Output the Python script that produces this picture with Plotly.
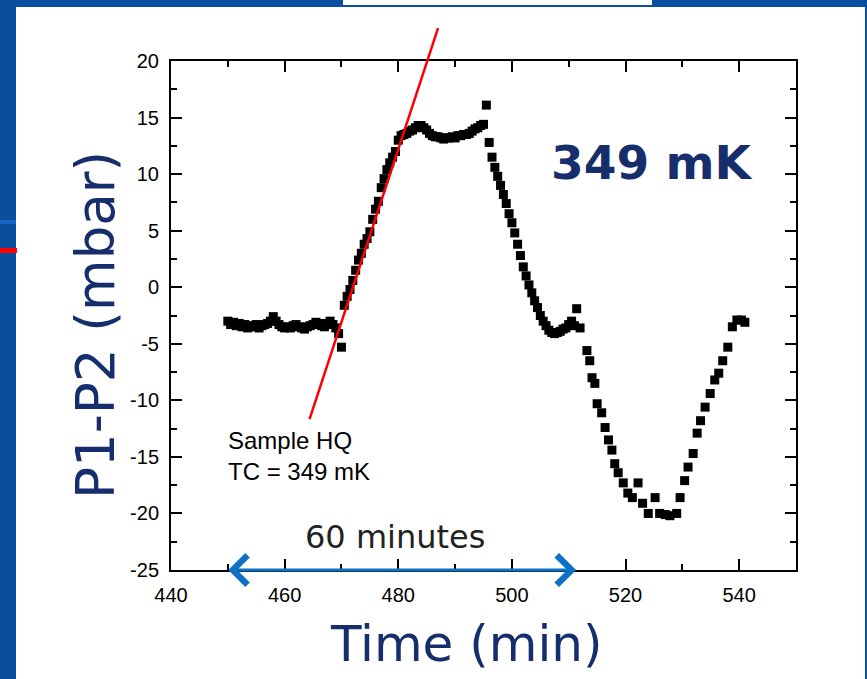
import plotly.graph_objects as go

# ---- data ----
time_min = [
    450, 450.5, 451, 451.5, 452, 452.5, 453, 453.5, 454, 454.5, 455, 455.5, 456, 456.5,
    457, 457.5, 458, 458.5, 459, 459.5, 460, 460.5, 461, 461.5, 462, 462.5, 463, 463.5,
    464, 464.5, 465, 465.5, 466, 466.5, 467, 467.5, 468, 468.5, 469, 469.5, 470,
    470.5, 471, 471.5, 472, 472.5, 473, 473.5, 474, 474.5, 475, 475.5, 476, 476.5,
    477, 477.5, 478, 478.5, 479, 479.5, 480, 480.5, 481, 481.5, 482, 482.5, 483,
    483.5, 484, 484.5, 485, 485.5, 486, 486.5, 487, 487.5, 488, 488.5, 489, 489.5,
    490, 490.5, 491, 491.5, 492, 492.5, 493, 493.5, 494, 494.5, 495, 495.5, 496,
    496.5, 497, 497.5, 498, 498.5, 499, 499.5, 500, 500.5, 501, 501.5, 502, 502.5,
    503, 503.5, 504, 504.5, 505, 505.5, 506, 506.5, 507, 507.5, 508, 508.5, 509,
    509.5, 510, 510.5, 511, 511.4, 512, 513.2, 513.7, 514.1, 514.6, 515, 515.8,
    516.4, 517, 517.6, 518.1, 518.7, 519.6, 520.4, 521.2, 522.2, 523, 524, 525.2,
    526, 527, 527.8, 529, 529.6, 530.4, 531, 531.9, 532.6, 533.2, 534, 534.9, 535.7,
    536.4, 537.1, 538, 538.8, 539.6, 540.4, 541,
]
dp_mbar = [
    -3.0, -3.3, -3.1, -3.4, -3.2, -3.5, -3.3, -3.6, -3.4, -3.5, -3.3, -3.6, -3.4, -3.3,
    -3.2, -3.0, -2.6, -3.0, -3.3, -3.5, -3.6, -3.5, -3.6, -3.4, -3.3, -3.5, -3.6, -3.7,
    -3.5, -3.4, -3.3, -3.1, -3.2, -3.4, -3.5, -3.2, -3.0, -3.3, -3.6, -4.1, -5.3,
    -1.6, -0.8, -0.2, 0.6, 1.5, 2.4, 3.0, 3.8, 4.3, 4.9, 6.0, 6.9, 7.6,
    8.8, 9.6, 10.4, 11.0, 11.5, 12.0, 13.0, 13.4, 13.5, 13.6, 13.8, 13.9, 14.1,
    14.3, 14.3, 14.1, 13.9, 13.6, 13.4, 13.3, 13.3, 13.2, 13.1, 13.2, 13.2, 13.3,
    13.2, 13.4, 13.4, 13.5, 13.5, 13.6, 13.8, 14.0, 14.1, 14.3, 14.4, 16.1, 12.8,
    11.5, 10.6, 9.8, 9.0, 8.2, 7.4, 6.5, 5.7, 4.8, 3.8, 2.8, 1.8, 1.0,
    0.2, -0.5, -1.2, -1.8, -2.5, -3.0, -3.4, -3.8, -4.0, -4.1, -4.0, -3.9, -3.7,
    -3.6, -3.3, -3.0, -3.4, -1.9, -3.6, -5.6, -6.5, -8.0, -8.5, -10.3, -11.1,
    -12.4, -13.5, -14.4, -15.6, -16.4, -17.3, -18.2, -18.6, -17.3, -19.1, -20.0, -18.6,
    -20.0, -20.1, -20.2, -20.0, -18.6, -17.1, -15.9, -14.7, -12.9, -11.8, -10.6, -9.4, -8.2,
    -7.6, -6.5, -5.3, -3.5, -2.9, -2.9, -3.1,
]
fit_t = [464.3, 487.0]
fit_v = [-11.8, 22.9]
span_t = [449.8, 511.3]
x_ticks = [440, 460, 480, 500, 520, 540]
y_ticks = [20, 15, 10, 5, 0, -5, -10, -15, -20, -25]

# ---- layout geometry (pixels) ----
W, H = 867, 679
L, R, T, B = 171, 796, 61, 570


def fx(px):
    return (px - L) / (R - L)


def fy(py):
    return (B - py) / (B - T)


BLUE_BG = "#0a4f9e"
NAVY = "#172e6c"

fig = go.Figure()
fig.add_trace(go.Scatter(
    x=time_min, y=dp_mbar, mode="markers",
    marker=dict(symbol="square", size=9, color="black", line=dict(width=0)),
    showlegend=False, hoverinfo="skip",
))

shapes = [
    dict(type="rect", xref="paper", yref="paper", x0=fx(16), x1=fx(865), y0=fy(679), y1=fy(7),
         fillcolor="white", line=dict(width=0), layer="below"),
    dict(type="rect", xref="paper", yref="paper", x0=fx(343), x1=fx(652), y0=fy(5), y1=fy(0),
         fillcolor="white", line=dict(width=0), layer="below"),
    dict(type="rect", xref="paper", yref="paper", x0=fx(0), x1=fx(16), y0=fy(224), y1=fy(220),
         fillcolor="#1565c8", line=dict(width=0), layer="below"),
    dict(type="rect", xref="paper", yref="paper", x0=fx(0), x1=fx(17), y0=fy(253), y1=fy(248),
         fillcolor="#ff0000", line=dict(width=0), layer="below"),
]

annotations = [
    # fit line (red)
    dict(x=fit_t[1], y=fit_v[1], ax=fit_t[0], ay=fit_v[0], xref="x", yref="y",
         axref="x", ayref="y", text="", showarrow=True, arrowhead=0,
         arrowwidth=2.5, arrowcolor="#ff0000", standoff=0, startstandoff=0),
    # 60 minutes double arrow
    dict(x=span_t[1], y=-25, ax=span_t[0], ay=-25, xref="x", yref="y",
         axref="x", ayref="y", text="", showarrow=True, arrowhead=4,
         startarrowhead=4, arrowside="end+start", arrowsize=1.9, startarrowsize=1.9,
         arrowwidth=3, arrowcolor="#0e72c4", standoff=0, startstandoff=0),
    dict(x=479.5, y=-22.1, xref="x", yref="y",
         xanchor="center", yanchor="middle",
         text="60 minutes", showarrow=False,
         font=dict(family="DejaVu Sans", size=32, color="#222222")),
    dict(x=449.7, y=-12.2, xref="x", yref="y", xanchor="left", yanchor="top",
         text="Sample HQ<br>TC = 349 mK", align="left", showarrow=False,
         font=dict(family="Liberation Sans, Arial", size=24, color="black")),
    dict(x=524.5, y=11.0, xref="x", yref="y", xanchor="center", yanchor="middle",
         text="<b>349 mK</b>", showarrow=False,
         font=dict(family="DejaVu Sans", size=47, color=NAVY)),
    dict(x=fx(466), y=fy(644), xref="paper", yref="paper", xanchor="center", yanchor="middle",
         text="Time (min)", showarrow=False,
         font=dict(family="DejaVu Sans", size=50, color=NAVY)),
    dict(x=fx(95), y=fy(325), xref="paper", yref="paper", xanchor="center", yanchor="middle",
         text="P1-P2 (mbar)", textangle=-90, showarrow=False,
         font=dict(family="DejaVu Sans", size=53, color=NAVY)),
]

axis_common = dict(
    showline=True, linecolor="black", linewidth=2, mirror="ticks",
    ticks="inside", ticklen=11, tickwidth=2, tickcolor="black",
    showgrid=False, zeroline=False, ticklabelstandoff=6,
    tickfont=dict(family="Liberation Sans, Arial", size=20, color="black"),
)

fig.update_layout(
    width=W, height=H,
    margin=dict(l=L, r=W - R, t=T, b=H - B, pad=0),
    paper_bgcolor=BLUE_BG, plot_bgcolor="white",
    shapes=shapes, annotations=annotations,
    xaxis=dict(range=[440, 550], tickvals=x_ticks, ticktext=[str(v) for v in x_ticks],
               minor=dict(dtick=10, tick0=440, ticks="inside", ticklen=6, tickwidth=2,
                          tickcolor="black"),
               **axis_common),
    yaxis=dict(range=[-25, 20], tickvals=y_ticks, ticktext=[str(v) for v in y_ticks],
               minor=dict(dtick=2.5, tick0=0, ticks="inside", ticklen=6, tickwidth=2,
                          tickcolor="black"),
               **axis_common),
)

fig.write_html("out.html")
